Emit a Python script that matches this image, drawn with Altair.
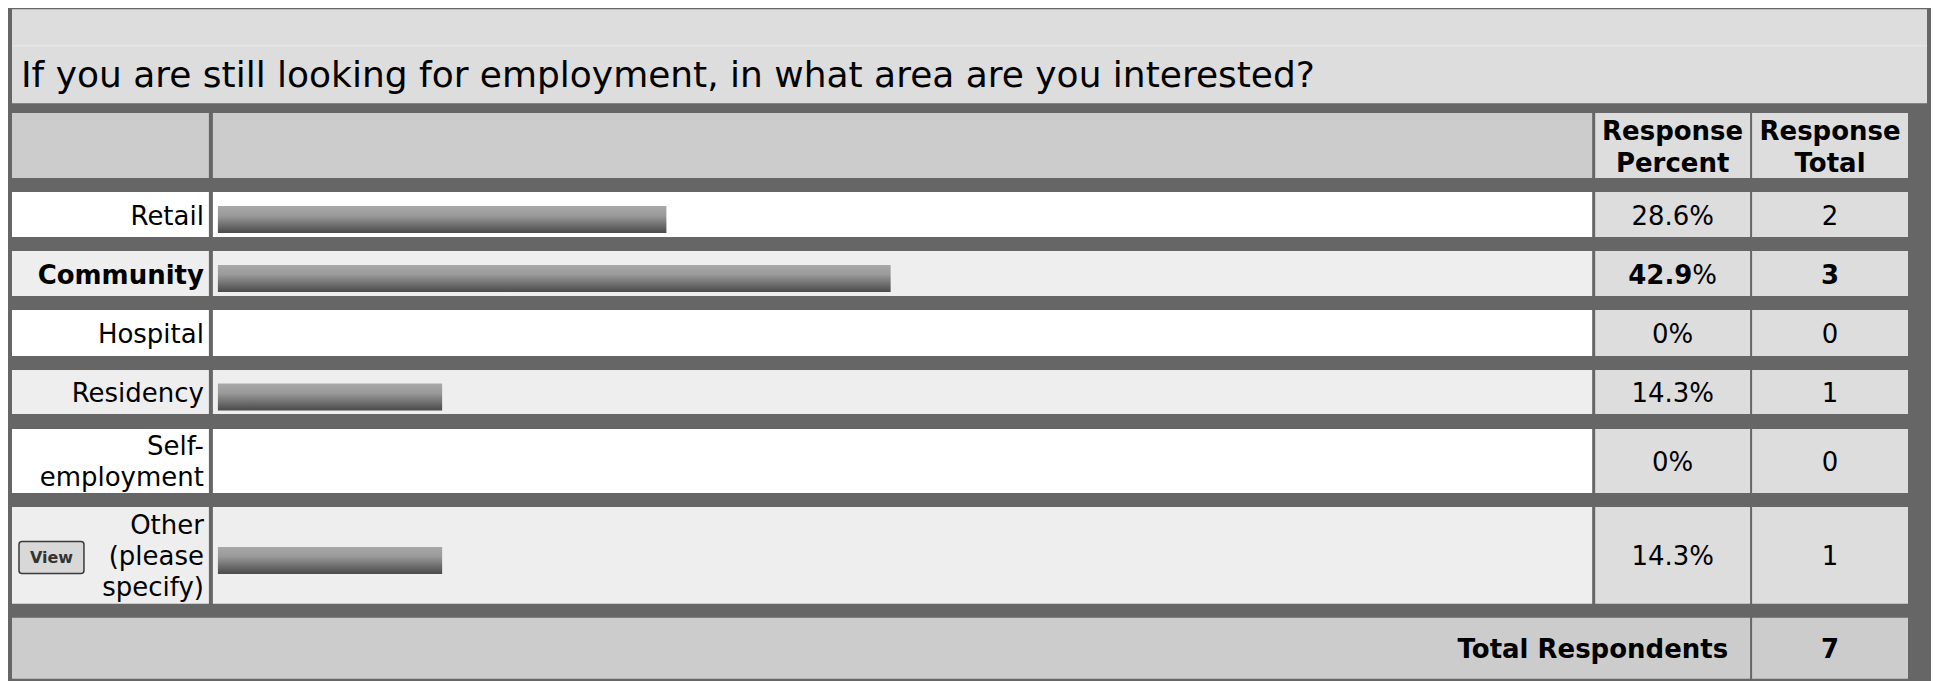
import altair as alt
import pandas as pd

# ---------------- data ----------------
title = "If you are still looking for employment, in what area are you interested?"
categories = ["Retail", "Community", "Hospital", "Residency", "Self-\nemployment", "Other\n(please\nspecify)"]
percents = [28.6, 42.9, 0.0, 14.3, 0.0, 14.3]
totals = [2, 3, 0, 1, 0, 1]
column_headers = ["Response\nPercent", "Response\nTotal"]
total_label = "Total Respondents"
total_respondents = 7
highlight = "Community"
other_button = "View"

# ---------------- layout (reference pixel coordinates) ----------------
OFF = 8
W, H = 1924, 673
FONT = "DejaVu Sans"
DARK = "#666666"
row_tops = [192, 251, 310, 370, 429, 507]
row_bottoms = [237, 296, 356, 414, 493, 604]
row_fills = ["#ffffff", "#eeeeee", "#ffffff", "#eeeeee", "#ffffff", "#eeeeee"]
COL_LABEL = (12, 209)
COL_BAR = (213, 1593)
COL_PCT = (1596, 1751)
COL_TOT = (1753, 1909)
HEAD = (113, 178)
TOTAL_ROW = (618, 679)
BAR_X0 = 218
PX_PER_PCT = 15.69
FS = 26
LH = 31
DY = 2  # optical shift of "middle" baseline

xs = alt.Scale(domain=[OFF, OFF + W], range=[0, W], nice=False, zero=False)
ys = alt.Scale(domain=[OFF, OFF + H], range=[0, H], nice=False, zero=False)

# ---------------- cell backgrounds ----------------
cells = [
    (8, 1932, 5, 700, DARK),
    (12, 1928, 9, 103, "#dddddd"),
    (12, 1928, 45, 46, "#e9e9e9"),
    (COL_LABEL[0], COL_LABEL[1], HEAD[0], HEAD[1], "#cccccc"),
    (COL_BAR[0], COL_BAR[1], HEAD[0], HEAD[1], "#cccccc"),
    (COL_PCT[0], COL_PCT[1], HEAD[0], HEAD[1], "#dddddd"),
    (COL_TOT[0], COL_TOT[1], HEAD[0], HEAD[1], "#dddddd"),
]
for t, b, f in zip(row_tops, row_bottoms, row_fills):
    cells.append((COL_LABEL[0], COL_LABEL[1], t, b, f))
    cells.append((COL_BAR[0], COL_BAR[1], t, b, f))
    cells.append((COL_PCT[0], COL_PCT[1], t, b, "#dddddd"))
    cells.append((COL_TOT[0], COL_TOT[1], t, b, "#dddddd"))
cells.append((COL_LABEL[0], COL_PCT[1], TOTAL_ROW[0], TOTAL_ROW[1], "#cccccc"))
cells.append((COL_TOT[0], COL_TOT[1], TOTAL_ROW[0], TOTAL_ROW[1], "#cccccc"))
cells_df = pd.DataFrame(cells, columns=["x0", "x1", "y0", "y1", "fill"])

cells_layer = alt.Chart(cells_df).mark_rect(strokeWidth=0).encode(
    x=alt.X("x0:Q", scale=xs, axis=None), x2="x1:Q",
    y=alt.Y("y0:Q", scale=ys, axis=None), y2="y1:Q",
    fill=alt.Fill("fill:N", scale=None),
)

# ---------------- rows ----------------
def fmt_pct(p):
    return f"{p:g}%"

rows = pd.DataFrame({
    "label": categories,
    "pct": percents,
    "total": [str(t) for t in totals],
    "pct_text": [fmt_pct(p) for p in percents],
    "top": row_tops,
    "bottom": row_bottoms,
})
rows["cy"] = (rows["top"] + rows["bottom"]) / 2 + DY
rows["ly"] = [cy - (lbl.count("\n")) * LH / 2 for cy, lbl in zip(rows["cy"], rows["label"])]
rows["bar_y0"] = (rows["top"] + rows["bottom"]) / 2 + 5 - 13.5
rows["bar_y1"] = (rows["top"] + rows["bottom"]) / 2 + 5 + 13.5
rows["zero"] = 0.0
rows["lx"] = COL_LABEL[1] - 5
rows["px"] = (COL_PCT[0] + COL_PCT[1]) / 2
rows["tx"] = (COL_TOT[0] + COL_TOT[1]) / 2
rows["bold"] = rows["label"] == highlight

gradient = alt.LinearGradient(
    gradient="linear", x1=0, x2=0, y1=0, y2=1,
    stops=[alt.GradientStop(color="#a8a8a8", offset=0),
           alt.GradientStop(color="#9a9a9a", offset=0.35),
           alt.GradientStop(color="#4a4a4a", offset=1)],
)
bar_scale = alt.Scale(domain=[0, 100], range=[BAR_X0 - OFF, BAR_X0 - OFF + 100 * PX_PER_PCT], nice=False)
bars = alt.Chart(rows[rows["pct"] > 0]).mark_rect(fill=gradient, strokeWidth=0).encode(
    x=alt.X("zero:Q", scale=bar_scale, axis=None), x2="pct:Q",
    y=alt.Y("bar_y0:Q", scale=ys, axis=None), y2="bar_y1:Q",
)

def text_layer(df, xcol, ycol, tcol, **kw):
    base = dict(font=FONT, fontSize=FS, color="#000000", baseline="middle", lineBreak="\n", lineHeight=LH)
    base.update(kw)
    return alt.Chart(df).mark_text(**base).encode(
        x=alt.X(f"{xcol}:Q", scale=xs, axis=None),
        y=alt.Y(f"{ycol}:Q", scale=ys, axis=None),
        text=alt.Text(f"{tcol}:N"),
    )

normal = rows[~rows["bold"]]
boldr = rows[rows["bold"]].copy()

labels_n = text_layer(normal, "lx", "ly", "label", align="right")
labels_b = text_layer(boldr, "lx", "ly", "label", align="right", fontWeight="bold")
pct_n = text_layer(normal, "px", "cy", "pct_text", align="center")
tot_n = text_layer(normal, "tx", "cy", "total", align="center")
tot_b = text_layer(boldr, "tx", "cy", "total", align="center", fontWeight="bold")

# highlighted percent: bold number + regular "%"
BOLD_DIGIT, BOLD_DOT, PCT_W = 0.696, 0.380, 0.950
def bold_num_width(s):
    return sum(BOLD_DOT if c == "." else BOLD_DIGIT for c in s) * FS
boldr["num"] = [f"{p:g}" for p in boldr["pct"]]
boldr["sign"] = "%"
boldr["split"] = [cx - (bold_num_width(n) + PCT_W * FS) / 2 + bold_num_width(n)
                  for cx, n in zip(boldr["px"], boldr["num"])]
pct_b_num = text_layer(boldr, "split", "cy", "num", align="right", fontWeight="bold")
pct_b_sign = text_layer(boldr, "split", "cy", "sign", align="left")

# ---------------- title, headers, totals ----------------
title_df = pd.DataFrame({"x": [21], "y": [87], "t": [title]})
title_layer = text_layer(title_df, "x", "y", "t", align="left", baseline="alphabetic", fontSize=36)

HLH = 32
head_df = pd.DataFrame({
    "x": [(COL_PCT[0] + COL_PCT[1]) / 2, (COL_TOT[0] + COL_TOT[1]) / 2],
    "y": [(HEAD[0] + HEAD[1]) / 2 + DY - HLH / 2] * 2,
    "t": column_headers,
})
head_layer = text_layer(head_df, "x", "y", "t", align="center", fontWeight="bold", lineHeight=HLH)

tot_cy = (TOTAL_ROW[0] + TOTAL_ROW[1]) / 2 + DY
total_df = pd.DataFrame({
    "x": [COL_PCT[1] - 22, (COL_TOT[0] + COL_TOT[1]) / 2],
    "y": [tot_cy, tot_cy],
    "t": [total_label, str(total_respondents)],
})
total_lbl = text_layer(total_df.iloc[[0]], "x", "y", "t", align="right", fontWeight="bold")
total_val = text_layer(total_df.iloc[[1]], "x", "y", "t", align="center", fontWeight="bold")

# "View" button in the "Other" row
ocy = (row_tops[-1] + row_bottoms[-1]) / 2
btn_df = pd.DataFrame({"x0": [19], "x1": [84], "y0": [ocy - 14], "y1": [ocy + 18],
                       "cx": [51.5], "cy": [ocy + 3], "t": [other_button]})
btn_rect = alt.Chart(btn_df).mark_rect(fill="#d8d8d8", stroke="#3a3a3a", strokeWidth=1.5, cornerRadius=3).encode(
    x=alt.X("x0:Q", scale=xs, axis=None), x2="x1:Q",
    y=alt.Y("y0:Q", scale=ys, axis=None), y2="y1:Q",
)
btn_text = text_layer(btn_df, "cx", "cy", "t", align="center", fontWeight="bold", fontSize=16, color="#333333")

chart = alt.layer(
    cells_layer, bars, title_layer, head_layer,
    labels_n, labels_b, pct_n, tot_n, tot_b, pct_b_num, pct_b_sign,
    total_lbl, total_val, btn_rect, btn_text,
).resolve_scale(x="independent").properties(
    width=W, height=H, padding=0,
    autosize=alt.AutoSizeParams(type="none"),
    background="white",
).configure_view(strokeWidth=0)

chart.save("out.html", embed_options={"renderer": "svg", "actions": False})
